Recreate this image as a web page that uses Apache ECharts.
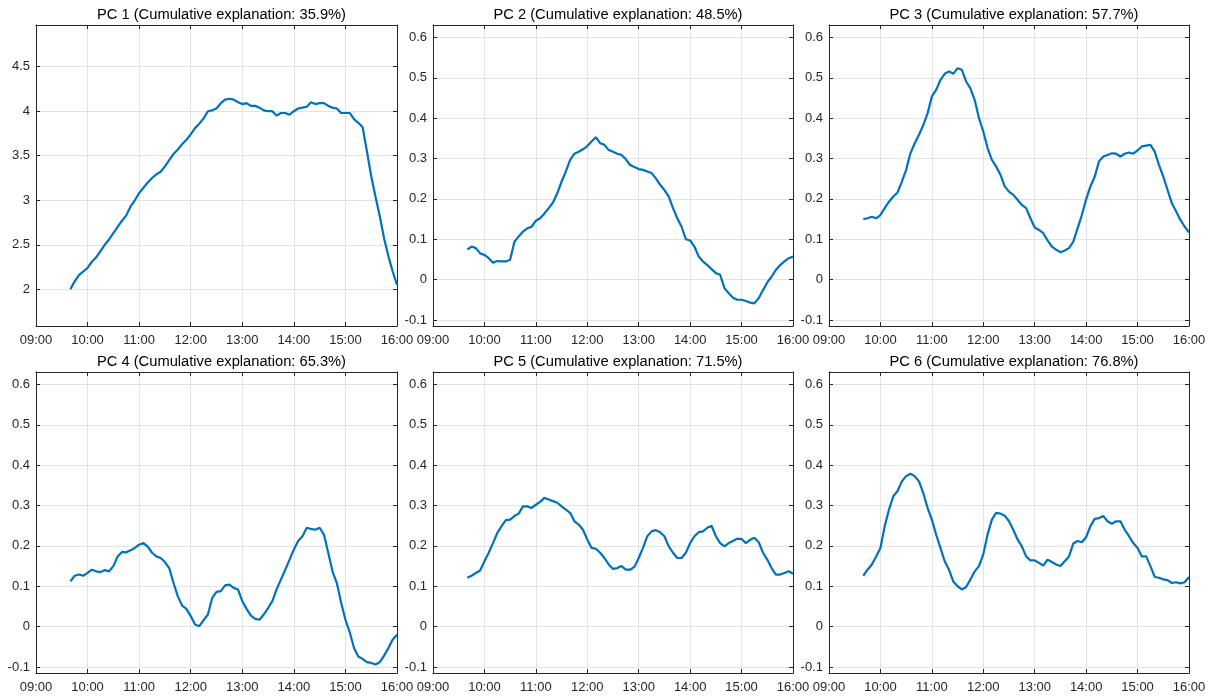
<!DOCTYPE html>
<html><head><meta charset="utf-8">
<script src="https://cdn.jsdelivr.net/npm/echarts@6/dist/echarts.min.js"></script>
<style>html,body{margin:0;padding:0;background:#fff}#c{width:1218px;height:697px}</style>
</head><body><div id="c"></div>
<script>
const times = ["09:40","09:45","09:50","09:55","10:00","10:05","10:10","10:15","10:20","10:25","10:30","10:35","10:40","10:45","10:50","10:55",
"11:00","11:05","11:10","11:15","11:20","11:25","11:30","11:35","11:40","11:45","11:50","11:55",
"12:00","12:05","12:10","12:15","12:20","12:25","12:30","12:35","12:40","12:45","12:50","12:55",
"13:00","13:05","13:10","13:15","13:20","13:25","13:30","13:35","13:40","13:45","13:50","13:55",
"14:00","14:05","14:10","14:15","14:20","14:25","14:30","14:35","14:40","14:45","14:50","14:55",
"15:00","15:05","15:10","15:15","15:20","15:25","15:30","15:35","15:40","15:45","15:50","15:55","16:00"];

const pc1 = [2.00,2.09,2.16,2.20,2.24,2.31,2.36,2.43,2.50,2.56,2.63,2.70,2.77,2.83,2.93,3.00,
3.08,3.14,3.20,3.25,3.29,3.32,3.38,3.45,3.52,3.57,3.63,3.68,
3.74,3.81,3.86,3.92,4.00,4.01,4.03,4.09,4.13,4.14,4.13,4.10,
4.08,4.09,4.06,4.06,4.04,4.01,4.00,4.00,3.95,3.98,3.98,3.96,
4.00,4.03,4.04,4.05,4.10,4.08,4.09,4.09,4.06,4.04,4.03,3.98,
3.98,3.98,3.91,3.87,3.82,3.55,3.27,3.04,2.82,2.57,2.37,2.20,2.05];

const pc2 = [0.074,0.082,0.078,0.065,0.061,0.053,0.042,0.046,0.045,0.045,0.049,0.094,0.107,0.119,0.127,0.131,
0.146,0.152,0.164,0.177,0.191,0.214,0.243,0.268,0.297,0.312,0.317,0.323,
0.331,0.342,0.353,0.338,0.334,0.321,0.317,0.312,0.309,0.298,0.284,0.279,
0.274,0.272,0.268,0.264,0.251,0.235,0.222,0.206,0.177,0.152,0.131,0.100,
0.097,0.082,0.057,0.045,0.036,0.026,0.016,0.012,-0.021,-0.034,-0.045,-0.050,
-0.050,-0.053,-0.057,-0.059,-0.046,-0.026,-0.007,0.007,0.024,0.036,0.045,0.053,0.057];

const pc3 = [0.150,0.152,0.156,0.152,0.160,0.177,0.193,0.206,0.216,0.243,0.272,0.313,0.338,0.359,0.383,0.412,
0.454,0.470,0.495,0.510,0.516,0.510,0.524,0.520,0.491,0.474,0.445,0.400,
0.367,0.326,0.297,0.280,0.260,0.231,0.218,0.210,0.198,0.185,0.177,0.152,
0.129,0.123,0.115,0.097,0.082,0.074,0.068,0.072,0.078,0.094,0.127,0.160,
0.199,0.231,0.255,0.293,0.305,0.309,0.313,0.312,0.305,0.312,0.315,0.312,
0.320,0.330,0.332,0.334,0.317,0.284,0.255,0.222,0.189,0.169,0.148,0.131,0.117];

const pc4 = [0.112,0.126,0.129,0.126,0.133,0.141,0.137,0.135,0.140,0.137,0.150,0.174,0.185,0.184,0.189,0.195,
0.203,0.207,0.198,0.183,0.174,0.170,0.160,0.145,0.108,0.075,0.052,0.044,
0.026,0.005,0.001,0.016,0.030,0.071,0.086,0.088,0.102,0.104,0.096,0.092,
0.063,0.044,0.027,0.019,0.017,0.030,0.046,0.063,0.093,0.117,0.141,0.166,
0.191,0.212,0.224,0.245,0.242,0.240,0.245,0.228,0.183,0.137,0.108,0.059,
0.017,-0.014,-0.053,-0.074,-0.080,-0.088,-0.090,-0.094,-0.088,-0.072,-0.053,-0.032,-0.020];

const pc5 = [0.121,0.126,0.133,0.139,0.162,0.183,0.207,0.232,0.249,0.264,0.265,0.274,0.280,0.298,0.298,0.294,
0.302,0.309,0.319,0.315,0.311,0.307,0.298,0.290,0.282,0.261,0.253,0.240,
0.216,0.195,0.193,0.183,0.170,0.154,0.143,0.145,0.150,0.141,0.141,0.148,
0.170,0.195,0.224,0.236,0.239,0.234,0.224,0.199,0.183,0.170,0.170,0.183,
0.207,0.224,0.234,0.236,0.245,0.250,0.224,0.207,0.199,0.207,0.212,0.218,
0.217,0.207,0.215,0.220,0.209,0.183,0.166,0.145,0.129,0.129,0.133,0.137,0.131];

const pc6 = [0.126,0.141,0.154,0.174,0.195,0.249,0.290,0.323,0.336,0.360,0.373,0.379,0.373,0.360,0.331,0.294,
0.265,0.228,0.195,0.162,0.141,0.112,0.100,0.092,0.098,0.117,0.137,0.150,
0.179,0.228,0.265,0.282,0.280,0.275,0.261,0.240,0.216,0.199,0.174,0.164,
0.164,0.158,0.151,0.166,0.160,0.154,0.150,0.162,0.174,0.206,0.212,0.209,
0.222,0.249,0.267,0.269,0.274,0.261,0.255,0.261,0.261,0.240,0.224,0.207,
0.195,0.174,0.174,0.150,0.123,0.121,0.117,0.115,0.108,0.110,0.107,0.110,0.123];

const titles = ["PC 1 (Cumulative explanation: 35.9%)","PC 2 (Cumulative explanation: 48.5%)","PC 3 (Cumulative explanation: 57.7%)",
"PC 4 (Cumulative explanation: 65.3%)","PC 5 (Cumulative explanation: 71.5%)","PC 6 (Cumulative explanation: 76.8%)"];
const yTicksPC1 = [2,2.5,3,3.5,4,4.5];
const yTicksOther = [-0.1,0,0.1,0.2,0.3,0.4,0.5,0.6];

const seriesData = [pc1,pc2,pc3,pc4,pc5,pc6];
const toMin = s => { const p = s.split(':'); return parseInt(p[0],10)*60 + parseInt(p[1],10); };
const fmtTime = v => { const h = Math.floor(v/60), m = v%60; return (h<10?'0':'')+h+':'+(m<10?'0':'')+m; };

const gridPos = [
  {left:36, top:25, width:361, height:301},
  {left:433, top:25, width:360, height:301},
  {left:829, top:25, width:360, height:301},
  {left:36, top:372, width:361, height:301},
  {left:433, top:372, width:360, height:301},
  {left:829, top:372, width:360, height:301}
];
const yRange = [[1.588,4.968],[-0.115,0.631],[-0.115,0.631],[-0.115,0.631],[-0.115,0.631],[-0.115,0.631]];
const FONT = '"Liberation Sans", Arial, Helvetica, sans-serif';
const AX = '#262626';

const grids=[], xAxes=[], yAxes=[], series=[], title=[];
for (let i=0;i<6;i++){
  const g = gridPos[i];
  grids.push({left:g.left, top:g.top, width:g.width, height:g.height, containLabel:false});
  title.push({text:titles[i], left:g.left+g.width/2, top:g.top-23, textAlign:'center',
    textStyle:{fontFamily:FONT, fontSize:14.7, fontWeight:'normal', color:'#000'}});
  const ticks = i===0 ? yTicksPC1 : yTicksOther;
  const xCommon = {type:'value', gridIndex:i, min:540, max:960, interval:60};
  xAxes.push(Object.assign({}, xCommon, {position:'bottom',
    axisLine:{show:true, onZero:false, lineStyle:{color:AX, width:1}},
    axisTick:{show:true, inside:true, length:4, lineStyle:{color:AX}},
    axisLabel:{show:true, formatter:fmtTime, color:AX, fontFamily:FONT, fontSize:13, margin:8, showMinLabel:true, showMaxLabel:true},
    splitLine:{show:true, lineStyle:{color:'#e3e3e3', width:1}}}));
  yAxes.push({type:'value', gridIndex:i, min:yRange[i][0], max:yRange[i][1], position:'left',
    axisLine:{show:true, onZero:false, lineStyle:{color:AX, width:1}},
    axisTick:{show:true, inside:true, length:4, customValues:ticks, lineStyle:{color:AX}},
    axisLabel:{show:true, customValues:ticks, color:AX, fontFamily:FONT, fontSize:13, margin:6},
    splitLine:{show:true, lineStyle:{color:'#e3e3e3', width:1}}});
  series.push({type:'line', xAxisIndex:i, yAxisIndex:i, showSymbol:false, symbol:'none',
    data: times.map((t,k)=>[toMin(t), seriesData[i][k]]),
    lineStyle:{color:'#0072BD', width:2.2}, itemStyle:{color:'#0072BD'}, animation:false});
}
for (let i=0;i<6;i++){
  const ticks = i===0 ? yTicksPC1 : yTicksOther;
  xAxes.push({type:'value', gridIndex:i, min:540, max:960, interval:60, position:'top',
    axisLine:{show:true, onZero:false, lineStyle:{color:AX, width:1}},
    axisTick:{show:true, inside:true, length:4, lineStyle:{color:AX}},
    axisLabel:{show:false}, splitLine:{show:false}});
  yAxes.push({type:'value', gridIndex:i, min:yRange[i][0], max:yRange[i][1], position:'right',
    axisLine:{show:true, onZero:false, lineStyle:{color:AX, width:1}},
    axisTick:{show:true, inside:true, length:4, customValues:ticks, lineStyle:{color:AX}},
    axisLabel:{show:false, customValues:ticks}, splitLine:{show:false}});
}

const chart = echarts.init(document.getElementById('c'), null, {renderer:'canvas'});
chart.setOption({backgroundColor:'#fff', animation:false, title, grid:grids, xAxis:xAxes, yAxis:yAxes, series});
</script></body></html>
